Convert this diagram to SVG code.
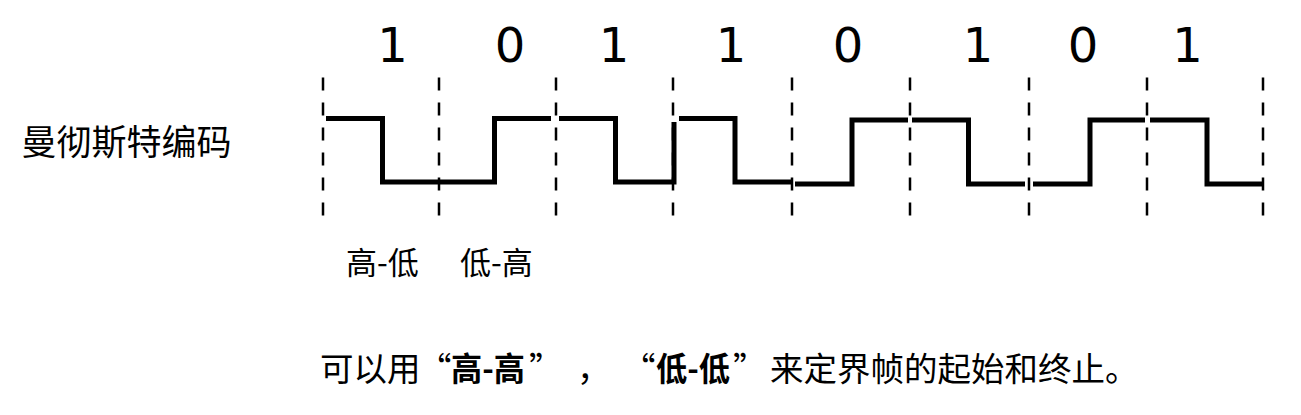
<svg xmlns="http://www.w3.org/2000/svg" width="1301" height="415" viewBox="0 0 1301 415">
<style>
.cjk{font-family:"Noto Sans CJK SC","Noto Sans",sans-serif;fill:#000}
.fw{font-feature-settings:"fwid" 1}
.digit{font-family:"DejaVu Sans",sans-serif;font-size:48px;fill:#000;text-anchor:middle}
.grid{stroke:#000;stroke-width:2.5;stroke-dasharray:13 12;fill:none}
.sig{stroke:#000;stroke-width:5;fill:none;stroke-linejoin:miter}
</style>
<rect width="1301" height="415" fill="#fff"/>
<g id="grid">
<line class="grid" x1="323" y1="77.5" x2="323" y2="217"/>
<line class="grid" x1="439" y1="77.5" x2="439" y2="217"/>
<line class="grid" x1="556" y1="77.5" x2="556" y2="217"/>
<line class="grid" x1="673" y1="77.5" x2="673" y2="217"/>
<line class="grid" x1="792" y1="77.5" x2="792" y2="217"/>
<line class="grid" x1="910" y1="77.5" x2="910" y2="217"/>
<line class="grid" x1="1029" y1="77.5" x2="1029" y2="217"/>
<line class="grid" x1="1147" y1="77.5" x2="1147" y2="217"/>
<line class="grid" x1="1263" y1="77.5" x2="1263" y2="217"/>
</g>
<g id="bits">
<text class="digit" x="392.5" y="62">1</text>
<text class="digit" x="510" y="62">0</text>
<text class="digit" x="614" y="62">1</text>
<text class="digit" x="731" y="62">1</text>
<text class="digit" x="848" y="62">0</text>
<text class="digit" x="978" y="62">1</text>
<text class="digit" x="1083" y="62">0</text>
<text class="digit" x="1187.5" y="62">1</text>
</g>
<g id="signal">
<path class="sig" d="M326,118.5 H382.5 V182 H439"/>
<path class="sig" d="M439,182 H494.5 V118.5 H551"/>
<path class="sig" d="M559,118.5 H615.5 V182 H674 V122"/>
<path class="sig" d="M679,118.5 H735 V182 H792"/>
<path class="sig" d="M795,184 H852 V120 H908"/>
<path class="sig" d="M912,120 H968.5 V184 H1025"/>
<path class="sig" d="M1033,184 H1090 V120 H1145"/>
<path class="sig" d="M1150,120 H1207 V184 H1263"/>
</g>
<g id="label-manchester">
<text class="cjk" x="21.5" y="155" font-size="35">曼彻斯特编码</text>
</g>
<g id="label-hl">
<text class="cjk" x="346" y="274" font-size="31">高-低</text>
</g>
<g id="label-lh">
<text class="cjk" x="460" y="274" font-size="31">低-高</text>
</g>
<g id="note" class="cjk" font-size="33.5">
<text x="320" y="381">可以用</text>
<text class="fw" x="418" y="381">“</text>
<text x="451" y="381" font-weight="bold" textLength="74" lengthAdjust="spacingAndGlyphs">高-高</text>
<text class="fw" x="529" y="381">”</text>
<text x="577" y="381">，</text>
<text class="fw" x="622" y="381">“</text>
<text x="656" y="381" font-weight="bold" textLength="74" lengthAdjust="spacingAndGlyphs">低-低</text>
<text class="fw" x="733" y="381">”</text>
<text x="770" y="381">来定界帧的起始和终止。</text>
</g>
</svg>
